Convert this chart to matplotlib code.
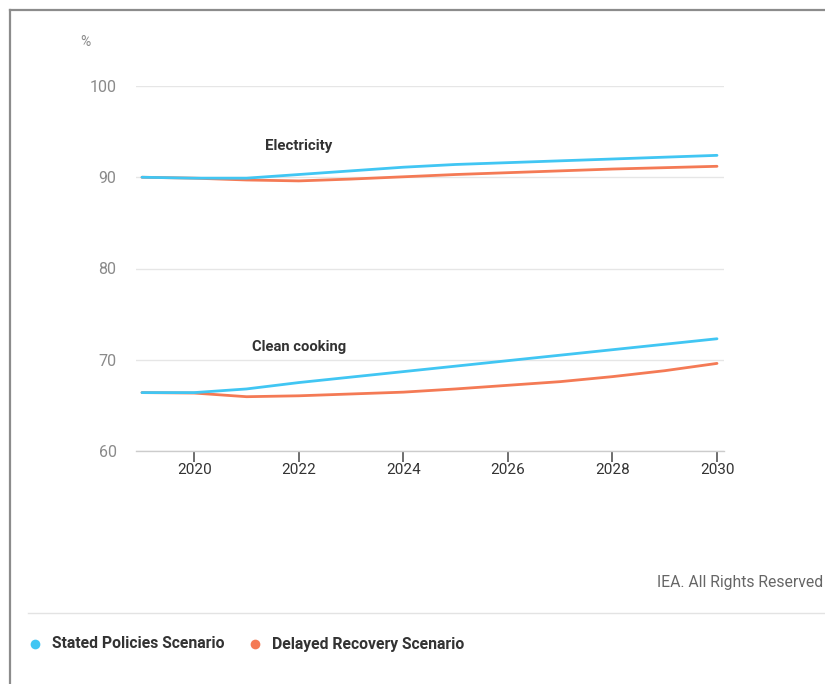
import matplotlib
matplotlib.use("Agg")
import matplotlib.pyplot as plt
from matplotlib.lines import Line2D

years = [2019, 2020, 2021, 2022, 2023, 2024, 2025, 2026, 2027, 2028, 2029, 2030]
elec_steps = [90.0, 89.9, 89.9, 90.3, 90.7, 91.1, 91.4, 91.6, 91.8, 92.0, 92.2, 92.4]
elec_drs = [90.0, 89.9, 89.7, 89.6, 89.8, 90.05, 90.3, 90.5, 90.7, 90.9, 91.05, 91.2]
cook_steps = [66.4, 66.4, 66.8, 67.5, 68.1, 68.7, 69.3, 69.9, 70.5, 71.1, 71.7, 72.3]
cook_drs = [66.4, 66.35, 65.95, 66.05, 66.25, 66.45, 66.8, 67.2, 67.6, 68.15, 68.8, 69.6]
xticks = [2020, 2022, 2024, 2026, 2028, 2030]
yticks = [60, 70, 80, 90, 100]
series_names = ["Stated Policies Scenario", "Delayed Recovery Scenario"]

BLUE = "#41c6f3"
ORANGE = "#f47a55"

plt.rcParams['font.family'] = ['Roboto', 'DejaVu Sans']

W, H = 825, 684
fig = plt.figure(figsize=(W / 100, H / 100), dpi=100)

x0, x1 = 136, 724
y0, y1 = 86, 451
ax = fig.add_axes([x0 / W, 1 - y1 / H, (x1 - x0) / W, (y1 - y0) / H])
px_per_year = (717 - 194) / 10
ax.set_xlim(2019 - (142 - x0) / px_per_year, 2030 + (x1 - 717) / px_per_year)
ax.set_ylim(60, 100)

ax.plot(years, elec_steps, color=BLUE, lw=2, solid_capstyle='round', zorder=3)
ax.plot(years, elec_drs, color=ORANGE, lw=2, solid_capstyle='round', zorder=2)
ax.plot(years, cook_steps, color=BLUE, lw=2, solid_capstyle='round', zorder=3)
ax.plot(years, cook_drs, color=ORANGE, lw=2, solid_capstyle='round', zorder=2)

for s in ['top', 'right', 'left']:
    ax.spines[s].set_visible(False)
ax.spines['bottom'].set_color('#cccccc')
ax.spines['bottom'].set_linewidth(1)
ax.set_yticks(yticks)
ax.set_xticks(xticks)
ax.yaxis.grid(True, color='#e6e6e6', lw=1)
ax.set_axisbelow(True)
ax.tick_params(axis='y', length=0, pad=14, labelsize=11.5, labelcolor='#8a8a8a')
ax.tick_params(axis='x', length=8, width=1.2, color='#555555', pad=1, labelsize=11, labelcolor='#333333')

ax.text(2022.0, 93.4, "Electricity", fontsize=10.8, fontweight='bold', color='#333333', ha='center', va='center')
ax.text(2022.0, 71.4, "Clean cooking", fontsize=10.6, fontweight='bold', color='#333333', ha='center', va='center')

fig.text(85 / W, 1 - 42 / H, "%", fontsize=10, color='#8a8a8a', ha='center', va='center')
fig.text(823 / W, 1 - 582 / H, "IEA. All Rights Reserved", fontsize=11.3, color='#666666', ha='right', va='center')

fig.add_artist(Line2D([28 / W, 1], [1 - 613 / H] * 2, color='#e3e3e3', lw=1))
# frame
fig.add_artist(Line2D([10 / W, 1], [1 - 10 / H] * 2, color='#8c8c8c', lw=1.6))
fig.add_artist(Line2D([10 / W] * 2, [0, 1 - 10 / H], color='#8c8c8c', lw=1.6))

# legend
ly = 1 - 644 / H
for cx, name, c in [(35, series_names[0], BLUE), (255, series_names[1], ORANGE)]:
    fig.add_artist(Line2D([cx / W], [ly], marker='o', markersize=7, color=c, markeredgewidth=0))
    fig.text((cx + 17) / W, ly, name, fontsize=11.3, fontweight='bold', color='#333333', ha='left', va='center')

fig.savefig("out.png", dpi=100)
